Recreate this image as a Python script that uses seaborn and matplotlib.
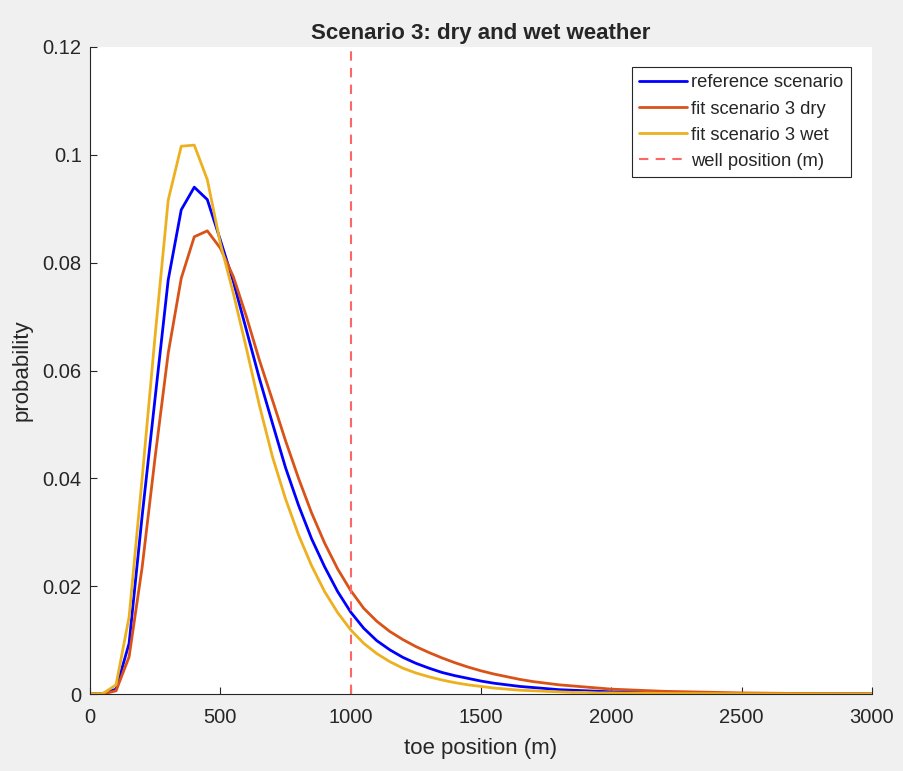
import numpy as np
import pandas as pd
import matplotlib
matplotlib.use("Agg")
import matplotlib.pyplot as plt
import seaborn as sns

# toe position (m)
toe_position = ([0, 50, 100, 150, 200, 250, 300, 350, 400, 450, 500, 550, 600, 650, 700,
                 750, 800, 850, 900, 950, 1000, 1050, 1100, 1150, 1200, 1250, 1300, 1350,
                 1400, 1450, 1500, 1550, 1600, 1650, 1700, 1750, 1800, 1850, 1900, 1950,
                 2000, 2100, 2200, 2300, 2400, 2500, 2600, 2700, 2800, 2900, 3000])

reference_scenario = [0, 0.0001, 0.0009, 0.0094, 0.0330, 0.0550, 0.0768, 0.0898, 0.0940, 0.0917,
                      0.0842, 0.0765, 0.0675, 0.0585, 0.0502, 0.0420, 0.0350, 0.0288, 0.0236,
                      0.0190, 0.0152, 0.0122, 0.0099, 0.0082, 0.0068, 0.0057, 0.0048, 0.0040,
                      0.0034, 0.0029, 0.0024, 0.0020, 0.0017, 0.0014, 0.0012, 0.0010, 0.0008,
                      0.0007, 0.0006, 0.0005, 0.0004, 0.0003, 0.0002, 0.00015, 0.0001, 0.00008,
                      0.00006, 0.00005, 0.00004, 0.00003, 0.00002]

fit_dry = [0, 0.0, 0.0006, 0.0069, 0.0235, 0.0440, 0.0632, 0.0771, 0.0848, 0.0859,
           0.0827, 0.0774, 0.0700, 0.0619, 0.0545, 0.0470, 0.0400, 0.0336, 0.0280,
           0.0232, 0.0192, 0.0159, 0.0135, 0.0116, 0.0101, 0.0088, 0.0077, 0.0067,
           0.0058, 0.0050, 0.0043, 0.0037, 0.0032, 0.0027, 0.0023, 0.0020, 0.0017,
           0.0015, 0.0013, 0.0011, 0.0009, 0.0007, 0.0005, 0.0004, 0.0003, 0.0002,
           0.00015, 0.0001, 0.00008, 0.00006, 0.00004]

fit_wet = [0, 0.0001, 0.0017, 0.0143, 0.0400, 0.0666, 0.0916, 0.1016, 0.1018, 0.0954,
           0.0836, 0.0743, 0.0641, 0.0535, 0.0440, 0.0362, 0.0295, 0.0238, 0.0190,
           0.0151, 0.0119, 0.0094, 0.0075, 0.0060, 0.0048, 0.0039, 0.0032, 0.0026,
           0.0021, 0.0017, 0.0014, 0.0011, 0.0009, 0.0007, 0.0006, 0.0005, 0.0004,
           0.0003, 0.0003, 0.0002, 0.0002, 0.00015, 0.0001, 0.00008, 0.00006, 0.00004,
           0.00003, 0.00002, 0.00002, 0.00001, 0.00001]

series_names = ["reference scenario", "fit scenario 3 dry", "fit scenario 3 wet"]
series_colors = ["#0000ff", "#d95319", "#edb120"]
well_position = 1000

x_ticks = [0, 500, 1000, 1500, 2000, 2500, 3000]
y_ticks = [0, 0.02, 0.04, 0.06, 0.08, 0.1, 0.12]
y_tick_labels = ["0", "0.02", "0.04", "0.06", "0.08", "0.1", "0.12"]

df = pd.DataFrame({
    "toe": toe_position * 3,
    "prob": reference_scenario + fit_dry + fit_wet,
    "series": sum([[n] * len(toe_position) for n in series_names], []),
})

sns.set_theme(style="white")
plt.rcParams["font.family"] = ["Liberation Sans", "DejaVu Sans"]

fig = plt.figure(figsize=(9.04, 7.71), dpi=100, facecolor="#f0f0f0")
ax = fig.add_axes([90 / 904, 77 / 771, 782 / 904, 647 / 771])
ax.set_facecolor("white")

sns.lineplot(data=df, x="toe", y="prob", hue="series", palette=series_colors,
             hue_order=series_names, linewidth=2.0, ax=ax, sort=False, estimator=None)
ax.axvline(well_position, color="#ff6666", linestyle=(0, (4.5, 3.5)), linewidth=1.5,
           label="well position (m)")

ax.set_xlim(0, 3000)
ax.set_ylim(0, 0.12)
ax.set_xticks(x_ticks)
ax.set_xticklabels([str(t) for t in x_ticks])
ax.set_yticks(y_ticks)
ax.set_yticklabels(y_tick_labels)
ax.tick_params(direction="in", length=5, width=0.8, colors="#262626", labelsize=14.5,
               bottom=True, left=True, top=False, right=False)
ax.tick_params(axis="x", pad=10)
ax.tick_params(axis="y", pad=6)
for s in ["top", "right"]:
    ax.spines[s].set_visible(False)
for s in ["left", "bottom"]:
    ax.spines[s].set_color("#262626")
    ax.spines[s].set_linewidth(0.8)

ax.set_xlabel("toe position (m)", fontsize=16, color="#262626", labelpad=8)
ax.set_ylabel("probability", fontsize=16, color="#262626", labelpad=7)
ax.set_title("Scenario 3: dry and wet weather", fontsize=16, fontweight="bold", pad=6)

handles, labels = ax.get_legend_handles_labels()
leg = ax.legend(handles, labels, loc="upper right", bbox_to_anchor=(0.973, 0.969),
                fontsize=13.2, frameon=True, fancybox=False, edgecolor="#262626",
                framealpha=1, handlelength=2.6, handletextpad=0.25, borderpad=0.4,
                labelspacing=0.5, borderaxespad=0)
leg.get_frame().set_linewidth(0.8)

fig.savefig("out.png", dpi=100, facecolor=fig.get_facecolor())
